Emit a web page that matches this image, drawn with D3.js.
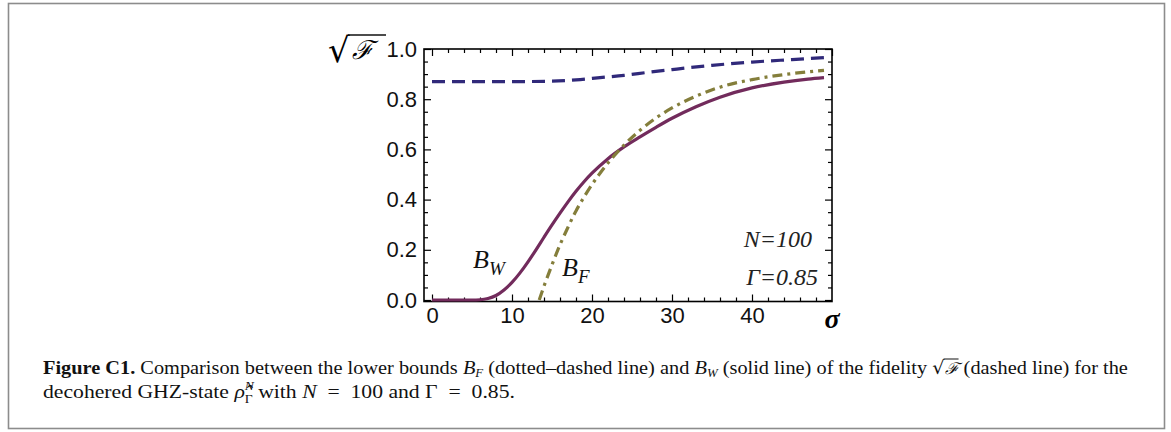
<!DOCTYPE html>
<html>
<head>
<meta charset="utf-8">
<script src="https://cdn.jsdelivr.net/npm/d3@7"></script>
<style>
  body { margin: 0; background: #fff; }
  svg { display: block; }
  svg text { white-space: pre; }
</style>
</head>
<body>
<svg id="chart" width="1171" height="432"></svg>
<script>
// values
var sigmaF  = [0, 5, 10, 15, 18, 21, 24, 27, 30, 35, 40, 45, 49];
var fidel   = [0.870, 0.870, 0.870, 0.872, 0.877, 0.886, 0.895, 0.907, 0.918, 0.935, 0.948, 0.958, 0.966];

var sigmaW  = [0, 5, 6, 7, 8, 9, 10, 11, 12, 13, 14, 15, 16, 17, 18, 19, 20, 22, 24, 26, 28, 30, 33, 36, 40, 44, 47, 49];
var boundW  = [0, 0, 0.001, 0.006, 0.018, 0.04, 0.07, 0.108, 0.152, 0.2, 0.25, 0.299, 0.346, 0.391, 0.433, 0.471, 0.505, 0.563, 0.61, 0.65, 0.688, 0.724, 0.77, 0.808, 0.845, 0.868, 0.88, 0.886];

var sigmaBF = [13.4, 14, 15, 16, 17, 18, 19, 20, 21, 22, 23, 24, 26, 28, 30, 33, 36, 40, 44, 49];
var boundF  = [0, 0.055, 0.14, 0.22, 0.29, 0.355, 0.41, 0.46, 0.505, 0.546, 0.583, 0.617, 0.676, 0.725, 0.765, 0.812, 0.848, 0.878, 0.898, 0.915];

var xMajor = [0, 10, 20, 30, 40, 50];
var yMajor = [0, 0.2, 0.4, 0.6, 0.8, 1.0];

var svg = d3.select("#chart");

// outer figure frame
svg.append("rect")
  .attr("x", 8.5).attr("y", 3.5)
  .attr("width", 1156).attr("height", 425)
  .attr("fill", "none").attr("stroke", "#8c8c8c").attr("stroke-width", 1.6);

var x = d3.scaleLinear().domain([-1, 50]).range([424, 832]);
var y = d3.scaleLinear().domain([-0.006, 1]).range([301.5, 49]);

var xMinor = d3.range(0, 50, 2).filter(function(v) { return v % 10 != 0; });
var yMinor = d3.range(0.05, 1, 0.05).filter(function(v) { return Math.abs(v * 5 - Math.round(v * 5)) > 1e-6; });

var tickFont = "'Liberation Sans', Arial, sans-serif";

function styleAxis(g) {
  g.select(".domain").remove();
  g.selectAll("line").attr("stroke", "#000").attr("stroke-width", 1.2);
  g.selectAll("text").attr("font-family", tickFont).attr("font-size", 22).attr("fill", "#111");
}

// bottom
svg.append("g").attr("transform", "translate(0," + y.range()[0] + ")")
  .call(d3.axisBottom(x).tickValues(xMajor.slice(0, 5)).tickSize(-7).tickPadding(6).tickFormat(d3.format("d")))
  .call(styleAxis);
svg.append("g").attr("transform", "translate(0," + y.range()[0] + ")")
  .call(d3.axisBottom(x).tickValues(xMinor).tickSize(-4).tickFormat(""))
  .call(styleAxis);
// top
svg.append("g").attr("transform", "translate(0," + y.range()[1] + ")")
  .call(d3.axisTop(x).tickValues(xMajor).tickSize(-7).tickFormat(""))
  .call(styleAxis);
svg.append("g").attr("transform", "translate(0," + y.range()[1] + ")")
  .call(d3.axisTop(x).tickValues(xMinor).tickSize(-4).tickFormat(""))
  .call(styleAxis);
// left
svg.append("g").attr("transform", "translate(" + x.range()[0] + ",0)")
  .call(d3.axisLeft(y).tickValues(yMajor).tickSize(-7).tickPadding(7).tickFormat(d3.format(".1f")))
  .call(styleAxis);
svg.append("g").attr("transform", "translate(" + x.range()[0] + ",0)")
  .call(d3.axisLeft(y).tickValues(yMinor).tickSize(-4).tickFormat(""))
  .call(styleAxis);
// right
svg.append("g").attr("transform", "translate(" + x.range()[1] + ",0)")
  .call(d3.axisRight(y).tickValues(yMajor).tickSize(-7).tickFormat(""))
  .call(styleAxis);
svg.append("g").attr("transform", "translate(" + x.range()[1] + ",0)")
  .call(d3.axisRight(y).tickValues(yMinor).tickSize(-4).tickFormat(""))
  .call(styleAxis);

// plot frame
svg.append("rect")
  .attr("x", x.range()[0]).attr("y", y.range()[1])
  .attr("width", x.range()[1] - x.range()[0]).attr("height", y.range()[0] - y.range()[1])
  .attr("fill", "none").attr("stroke", "#000").attr("stroke-width", 1.6);

var line = d3.line().x(function(d) { return x(d[0]); }).y(function(d) { return y(d[1]); }).curve(d3.curveMonotoneX);

var plot = svg.append("g");
plot.append("path")
  .datum(d3.zip(sigmaW, boundW))
  .attr("d", line)
  .attr("fill", "none").attr("stroke", "#722b5c").attr("stroke-width", 3.2);
plot.append("path")
  .datum(d3.zip(sigmaBF, boundF))
  .attr("d", line)
  .attr("fill", "none").attr("stroke", "#847e3b").attr("stroke-width", 3.2)
  .attr("stroke-dasharray", "10,5,3,5");
plot.append("path")
  .datum(d3.zip(sigmaF, fidel))
  .attr("d", line)
  .attr("fill", "none").attr("stroke", "#30297a").attr("stroke-width", 3.2)
  .attr("stroke-dasharray", "13,7");

var serif = "'Liberation Serif', 'Times New Roman', serif";

// sigma label in place of 50
svg.append("text")
  .attr("x", x(50)).attr("y", 328)
  .attr("text-anchor", "middle")
  .attr("font-family", serif).attr("font-style", "italic").attr("font-weight", "bold")
  .attr("font-size", 28).text("σ");

// sqrt F label
svg.append("text")
  .attr("x", 328).attr("y", 62)
  .attr("font-family", "'DejaVu Serif', serif").attr("font-size", 34).text("√");
svg.append("line")
  .attr("x1", 348).attr("x2", 386).attr("y1", 35).attr("y2", 35)
  .attr("stroke", "#111").attr("stroke-width", 1.6);
svg.append("text")
  .attr("x", 352).attr("y", 59)
  .attr("font-family", "'DejaVu Serif', serif").attr("font-style", "italic")
  .attr("font-size", 26).text("ℱ");

// curve labels
function labelB(xp, yp, sub) {
  var t = svg.append("text").attr("x", xp).attr("y", yp)
    .attr("font-family", serif).attr("font-style", "italic").attr("font-size", 26).attr("fill", "#111");
  t.append("tspan").text("B");
  t.append("tspan").attr("dy", 7).attr("font-size", 19).text(sub);
}
labelB(473, 268, "W");
labelB(562, 276, "F");

svg.append("text").attr("x", 812).attr("y", 247).attr("text-anchor", "end")
  .attr("font-family", serif).attr("font-style", "italic").attr("font-size", 24).attr("fill", "#222")
  .text("N=100");
svg.append("text").attr("x", 818).attr("y", 285).attr("text-anchor", "end")
  .attr("font-family", serif).attr("font-style", "italic").attr("font-size", 24).attr("fill", "#222")
  .text("Γ=0.85");

// caption, laid out piece by piece then fitted to the measured width
function captionLine(parts, x0, base, width) {
  var g = svg.append("g");
  var cx = 0;
  parts.forEach(function(p) {
    var t = g.append("text")
      .attr("x", cx).attr("y", base + (p.dy || 0))
      .attr("font-family", p.font || serif)
      .attr("font-size", p.size || 19)
      .attr("font-style", p.italic ? "italic" : "normal")
      .attr("font-weight", p.bold ? "bold" : "normal")
      .attr("fill", "#111")
      .text(p.t);
    var w = t.node().getComputedTextLength();
    if (p.over) {
      g.append("line").attr("x1", cx - 1).attr("x2", cx + w)
        .attr("y1", base - 15).attr("y2", base - 15)
        .attr("stroke", "#111").attr("stroke-width", 1);
    }
    if (!p.stay) cx += w;
  });
  var sx = width / cx;
  g.attr("transform", "translate(" + x0 + ",0) scale(" + sx + ",1)");
  return g;
}

captionLine([
  {t: "Figure C1.", bold: true},
  {t: " Comparison between the lower bounds "},
  {t: "B", italic: true},
  {t: "F", italic: true, size: 12, dy: 3},
  {t: " (dotted–dashed line) and "},
  {t: "B", italic: true},
  {t: "W", italic: true, size: 12, dy: 3},
  {t: " (solid line) of the fidelity "},
  {t: "√", font: "'DejaVu Serif', serif", size: 18},
  {t: "ℱ", italic: true, font: "'DejaVu Serif', serif", size: 16, over: true},
  {t: " (dashed line) for the"}
], 43, 374, 1085);

captionLine([
  {t: "decohered GHZ-state "},
  {t: "ρ̂", italic: true},
  {t: "N", italic: true, size: 12, dy: -8, stay: true},
  {t: "Γ", size: 12, dy: 5},
  {t: " with "},
  {t: "N", italic: true},
  {t: "  =  100 and Γ  =  0.85."}
], 43, 398, 472);
</script>
</body>
</html>
